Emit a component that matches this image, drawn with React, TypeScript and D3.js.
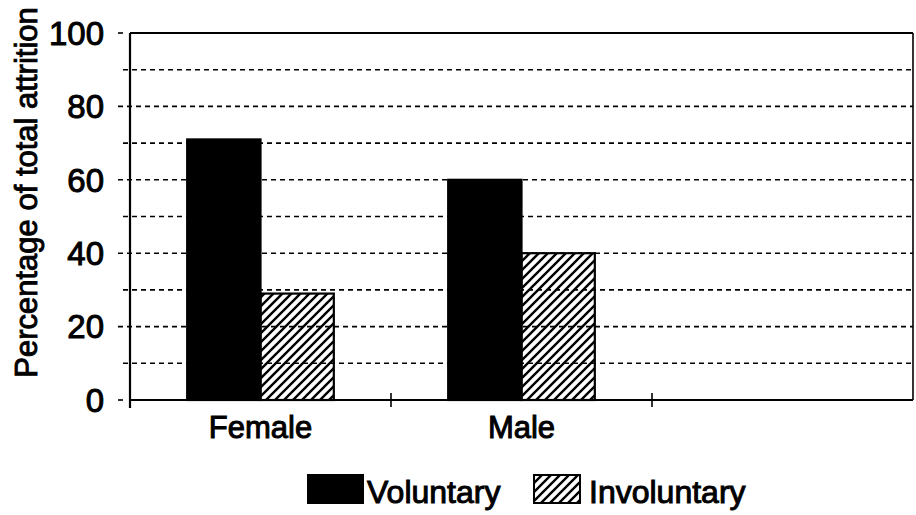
import React, { useEffect, useRef } from "react";
import * as d3 from "d3";

// categories (third slot is empty in the original chart)
const categories = ["Female", "Male", ""];
const seriesNames = ["Voluntary", "Involuntary"];
const voluntary = [71, 60, null];
const involuntary = [29, 40, null];
const yTicks = [0, 20, 40, 60, 80, 100];
const yGrid = [10, 20, 30, 40, 50, 60, 70, 80, 90];

const FONT = "'Liberation Sans', Arial, sans-serif";

function App() {
  const ref = useRef<SVGSVGElement>(null);

  useEffect(() => {
    drawChart();
  }, []);

  function drawChart() {
    const width = 916;
    const height = 515;
    const margin = { top: 33, right: 3, bottom: 115, left: 130 };

    const svg = d3.select(ref.current);
    svg.selectAll("*").remove();

    // hatch pattern for involuntary bars
    const defs = svg.append("defs");
    defs
      .append("pattern")
      .attr("id", "hatch")
      .attr("patternUnits", "userSpaceOnUse")
      .attr("width", 9)
      .attr("height", 9)
      .append("path")
      .attr("d", "M-2,2 l4,-4 M0,9 l9,-9 M7,11 l4,-4")
      .attr("stroke", "black")
      .attr("stroke-width", 2.4);

    svg
      .append("rect")
      .attr("width", width)
      .attr("height", height)
      .attr("fill", "white");

    const x0 = d3
      .scaleBand()
      .domain(categories.map((c, i) => String(i)))
      .range([margin.left, width - margin.right])
      .paddingInner(0)
      .paddingOuter(0);

    const x1 = d3
      .scaleBand()
      .domain(seriesNames)
      .range([0, x0.bandwidth()])
      .paddingOuter(0.78)
      .paddingInner(0);

    const y = d3
      .scaleLinear()
      .domain([0, 100])
      .range([height - margin.bottom, margin.top]);

    const left = margin.left;
    const right = width - margin.right;
    const bottom = y(0);
    const top = y(100);

    // dashed gridlines (extend slightly left as tick marks)
    svg
      .append("g")
      .selectAll("line")
      .data(yGrid)
      .join("line")
      .attr("x1", (d) => (d % 20 === 0 ? left - 12 : left - 7))
      .attr("x2", right)
      .attr("y1", (d) => y(d))
      .attr("y2", (d) => y(d))
      .attr("stroke", "black")
      .attr("stroke-width", 1.6)
      .attr("stroke-dasharray", "5,4");

    // small ticks at 0 and 100
    svg
      .append("g")
      .selectAll("line")
      .data([0, 100])
      .join("line")
      .attr("x1", left - 12)
      .attr("x2", left - 7)
      .attr("y1", (d) => y(d))
      .attr("y2", (d) => y(d))
      .attr("stroke", "black")
      .attr("stroke-width", 1.6);

    const series = [
      { name: "Voluntary", values: voluntary, fill: "black" },
      { name: "Involuntary", values: involuntary, fill: "url(#hatch)" },
    ];

    // bars
    series.forEach((s) => {
      svg
        .append("g")
        .selectAll("rect")
        .data(s.values.map((v, i) => ({ v, i })).filter((d) => d.v != null))
        .join("rect")
        .attr("x", (d) => x0(String(d.i)) + x1(s.name))
        .attr("y", (d) => y(d.v))
        .attr("width", x1.bandwidth())
        .attr("height", (d) => bottom - y(d.v))
        .attr("fill", s.fill)
        .attr("stroke", "black")
        .attr("stroke-width", 2.2);
    });

    // frame
    svg
      .append("line")
      .attr("x1", left)
      .attr("x2", right)
      .attr("y1", top)
      .attr("y2", top)
      .attr("stroke", "black")
      .attr("stroke-width", 2.2);
    svg
      .append("line")
      .attr("x1", right)
      .attr("x2", right)
      .attr("y1", top)
      .attr("y2", bottom)
      .attr("stroke", "black")
      .attr("stroke-width", 1.6);
    svg
      .append("line")
      .attr("x1", left)
      .attr("x2", left)
      .attr("y1", top)
      .attr("y2", bottom + 8)
      .attr("stroke", "black")
      .attr("stroke-width", 2.2);
    svg
      .append("line")
      .attr("x1", left)
      .attr("x2", right)
      .attr("y1", bottom)
      .attr("y2", bottom)
      .attr("stroke", "black")
      .attr("stroke-width", 2.2);

    // x ticks at band boundaries
    svg
      .append("g")
      .selectAll("line")
      .data(categories.slice(1).map((c, i) => String(i + 1)))
      .join("line")
      .attr("x1", (d) => x0(d))
      .attr("x2", (d) => x0(d))
      .attr("y1", bottom - 7)
      .attr("y2", bottom + 7)
      .attr("stroke", "black")
      .attr("stroke-width", 1.6);

    // y tick labels
    svg
      .append("g")
      .selectAll("text")
      .data(yTicks)
      .join("text")
      .attr("x", left - 26)
      .attr("y", (d) => y(d))
      .attr("dy", "0.36em")
      .attr("text-anchor", "end")
      .attr("font-family", FONT)
      .attr("font-size", 33)
      .attr("stroke", "black")
      .attr("stroke-width", 1)
      .text((d) => d);

    // category labels
    svg
      .append("g")
      .selectAll("text")
      .data(categories.map((c, i) => ({ c, i })))
      .join("text")
      .attr("x", (d) => x0(String(d.i)) + x0.bandwidth() / 2)
      .attr("y", bottom + 38)
      .attr("text-anchor", "middle")
      .attr("font-family", FONT)
      .attr("font-size", 31)
      .attr("stroke", "black")
      .attr("stroke-width", 1)
      .text((d) => d.c);

    // y axis title
    svg
      .append("text")
      .attr("transform", `translate(37,${(top + bottom) / 2 - 24}) rotate(-90)`)
      .attr("text-anchor", "middle")
      .attr("font-family", FONT)
      .attr("font-size", 31)
      .attr("stroke", "black")
      .attr("stroke-width", 0.9)
      .text("Percentage of total attrition");

    // legend
    const legend = [
      { name: seriesNames[0], fill: "black", bx: 308, bw: 55, tx: 367 },
      { name: seriesNames[1], fill: "url(#hatch)", bx: 534, bw: 46, tx: 589 },
    ];
    const lg = svg.append("g");
    legend.forEach((l) => {
      lg.append("rect")
        .attr("x", l.bx)
        .attr("y", 475)
        .attr("width", l.bw)
        .attr("height", 28)
        .attr("fill", l.fill)
        .attr("stroke", "black")
        .attr("stroke-width", 2);
      lg.append("text")
        .attr("x", l.tx)
        .attr("y", 503)
        .attr("font-family", FONT)
        .attr("font-size", 32)
        .attr("stroke", "black")
        .attr("stroke-width", 1)
        .text(l.name);
    });
  }

  return (
    <svg
      ref={ref}
      width={916}
      height={515}
      style={{ position: "absolute", left: 0, top: 0, display: "block" }}
    />
  );
}

export default App;
